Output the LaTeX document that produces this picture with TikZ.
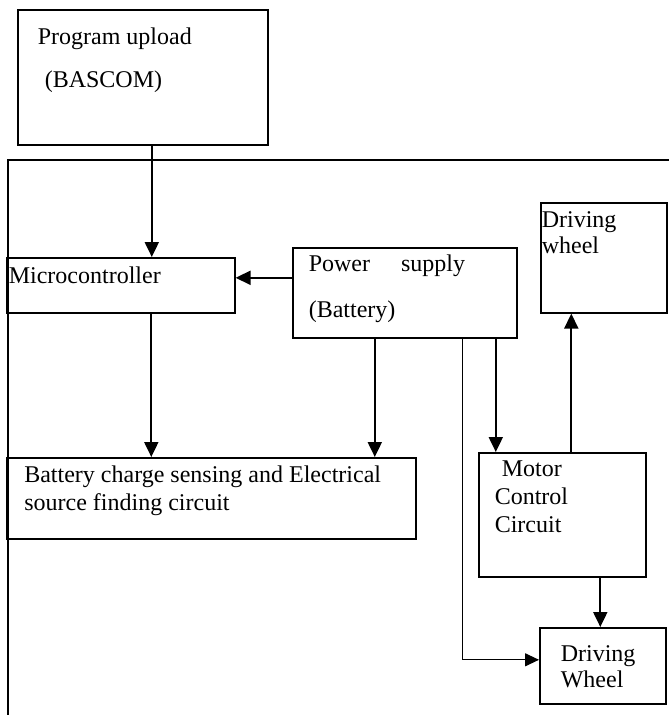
\documentclass[tikz,border=0pt]{standalone}
\usepackage{fontspec}
\setmainfont{Liberation Serif}
\usetikzlibrary{arrows.meta}
\tikzset{
  every picture/.style={line width=1.6pt},
  box/.style={draw, anchor=north west, inner sep=0pt, line width=1.6pt},
  arrow/.style={-{Triangle[length=15pt, width=14pt]}, line width=2pt},
  thinarrow/.style={-{Triangle[length=14pt, width=13pt]}, line width=1.2pt},
  txt/.style={anchor=base west, inner sep=0pt, font=\fontsize{24}{28}\selectfont},
}

\begin{document}
\begin{tikzpicture}[x=1pt, y=-1pt]
  \useasboundingbox (0,0) rectangle (669,715);
  % open frame round the robot
  \draw[line width=2pt] (669,160) -- (8,160) -- (8,715);
  % blocks
  \node[box, minimum width=250pt, minimum height=135pt] (prog) at (17,9) {};
  \node[txt] (progA) at (37,44) {Program upload};
  \node[txt] (progB) at (44,87) {(BASCOM)};
  \node[box, minimum width=228pt, minimum height=55pt] (mcu) at (6,257) {};
  \node[txt] (mcuA) at (8,283) {Microcontroller};
  \node[box, minimum width=224pt, minimum height=90pt] (psu) at (292,247) {};
  \node[txt] (psuA) at (308,271) {Power\hspace{31pt}supply};
  \node[txt] (psuB) at (308,317) {(Battery)};
  \node[box, minimum width=126pt, minimum height=110pt] (dwtop) at (540,202) {};
  \node[txt] (dwtopA) at (541,227) {Driving};
  \node[txt] (dwtopB) at (541,253) {wheel};
  \node[box, minimum width=409pt, minimum height=81pt] (sense) at (6,457) {};
  \node[txt] (senseA) at (23.5,482) {Battery charge sensing and Electrical};
  \node[txt] (senseB) at (23.5,510) {source finding circuit};
  \node[box, minimum width=167pt, minimum height=124pt] (mcc) at (478,452) {};
  \node[txt] (mccA) at (501,476) {Motor};
  \node[txt] (mccB) at (494,504) {Control};
  \node[txt] (mccC) at (494,532) {Circuit};
  \node[box, minimum width=126pt, minimum height=76pt] (dwbot) at (539,627) {};
  \node[txt] (dwbotA) at (560,661) {Driving};
  \node[txt] (dwbotB) at (560,687) {Wheel};
  % connections
  \draw[arrow] ([xshift=9pt]prog.south) -- ([xshift=9pt]prog.south |- mcu.north);
  \draw[arrow] ([yshift=15pt]psu.west) -- ([yshift=15pt]psu.west -| mcu.east);
  \draw[arrow] ([xshift=30.5pt]mcu.south) -- ([xshift=30.5pt]mcu.south |- sense.north);
  \draw[arrow] ([xshift=-30pt]psu.south) -- ([xshift=-30pt]psu.south |- sense.north);
  \draw[arrow] ([xshift=91pt]psu.south) -- ([xshift=91pt]psu.south |- mcc.north);
  \draw[thinarrow] ([xshift=58pt]psu.south) |- ([yshift=6pt]dwbot.west);
  \draw[arrow] ([xshift=9pt]mcc.north) -- ([xshift=9pt]mcc.north |- dwtop.south);
  \draw[arrow] ([xshift=38pt]mcc.south) -- ([xshift=38pt]mcc.south |- dwbot.north);
\end{tikzpicture}
\end{document}
